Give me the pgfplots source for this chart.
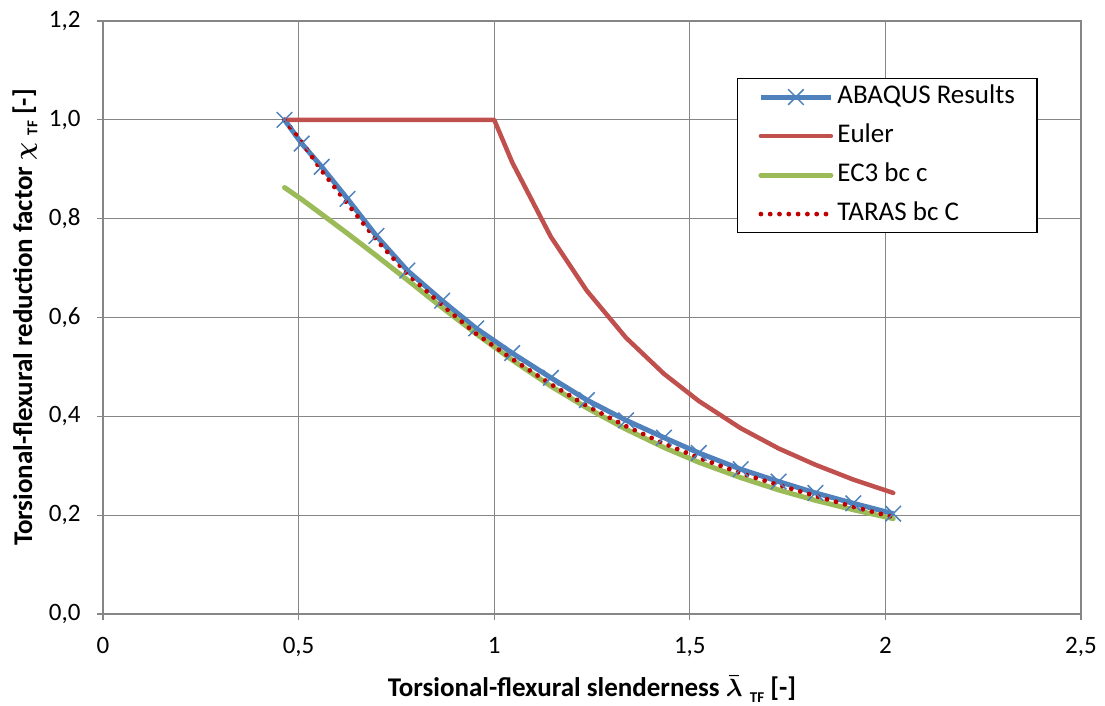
\documentclass[border=0pt]{standalone}
\usepackage{amsmath}
\usepackage{pgfplots}
\pgfplotsset{compat=1.18}
\usepackage{fontspec}
\setmainfont{Carlito}
\definecolor{cblue}{HTML}{4F81BD}
\definecolor{cred}{HTML}{C0504D}
\definecolor{cgreen}{HTML}{9BBB59}
\definecolor{cdot}{HTML}{C00000}
\definecolor{cgrid}{HTML}{868686}
\newcommand{\fs}{\fontsize{25pt}{29pt}\selectfont}
\newcommand{\fl}{\fontsize{27pt}{31pt}\selectfont}
\begin{document}
\fs
\begin{tikzpicture}
\useasboundingbox (-103pt,-91pt) rectangle (1002pt,614pt);
\begin{axis}[
  scale only axis,
  width=978pt, height=593pt,
  xmin=0, xmax=2.5, ymin=0, ymax=1.2,
  xtick={0,0.5,1,1.5,2,2.5},
  ytick={0,0.2,0.4,0.6,0.8,1.0,1.2},
  xticklabels={0,{0,5},1,{1,5},2,{2,5}},
  yticklabels={{0,0},{0,2},{0,4},{0,6},{0,8},{1,0},{1,2}},
  grid=major,
  major grid style={cgrid, line width=1.3pt},
  axis line style={cgrid, line width=1.3pt},
  tick style={cgrid, line width=1.3pt},
  tick align=outside, major tick length=6pt,
  tick pos=left,
  ticklabel style={font=\fs},
  yticklabel style={xshift=-8pt},
  xticklabel style={yshift=-9pt},
  xlabel={\textbf{Torsional-flexural slenderness $\boldsymbol{\bar{\lambda}}$\;\raisebox{-0.4ex}{\fontsize{15pt}{16pt}\selectfont TF} [-]}},
  ylabel={\textbf{Torsional-flexural reduction factor $\boldsymbol{\chi}$\;\raisebox{-0.4ex}{\fontsize{15pt}{16pt}\selectfont TF} [-]}},
  xlabel style={at={(axis description cs:0.5,0)}, anchor=center, yshift=-75pt, font=\fl},
  ylabel style={at={(axis description cs:0,0.5)}, anchor=center, yshift=78pt, font=\fl},
  legend style={at={(rel axis cs:0.648,0.904)}, anchor=north west,
    draw=black, line width=1.3pt, fill=white,
    inner xsep=6pt, inner ysep=3pt, row sep=8pt,
    font=\fl,
    nodes={inner sep=2pt, text height=20pt, text depth=7pt},
    /tikz/every odd column/.style={column sep=2pt},
    legend cell align=left},
  legend image code/.code={
    \path (0pt,0pt);
    \draw[#1, mark=none] (15pt,0pt) -- (85pt,0pt);
    \draw[#1, draw=none] plot coordinates {(50pt,0pt)};},
]
\addplot[cblue, line width=5pt, mark=x, mark size=11pt, mark options={line width=1.5pt, solid}] coordinates {
(0.464,1.000) (0.508,0.952) (0.559,0.905) (0.625,0.840) (0.699,0.765)
(0.778,0.695) (0.867,0.634) (0.954,0.578) (1.046,0.528) (1.145,0.478)
(1.237,0.433) (1.337,0.392) (1.434,0.357) (1.523,0.326) (1.630,0.293)
(1.727,0.268) (1.821,0.245) (1.918,0.224) (2.020,0.203)};
\addlegendentry{ABAQUS Results\hspace*{14pt}}
\addplot[cred, line width=4.5pt, line join=round, line cap=round] coordinates {
(0.464,1.000) (1.000,1.000) (1.046,0.914) (1.145,0.763) (1.237,0.654)
(1.337,0.559) (1.434,0.486) (1.523,0.431) (1.630,0.376) (1.727,0.335)
(1.821,0.302) (1.918,0.272) (2.020,0.245)};
\addlegendentry{Euler}
\addplot[cgreen, line width=5pt, line join=round, line cap=round] coordinates {
(0.464,0.863) (0.508,0.839) (0.559,0.809) (0.625,0.770) (0.699,0.725)
(0.778,0.676) (0.867,0.620) (0.954,0.567) (1.046,0.514) (1.145,0.461)
(1.237,0.417) (1.337,0.374) (1.434,0.337) (1.523,0.307) (1.630,0.276)
(1.727,0.251) (1.821,0.230) (1.918,0.211) (2.020,0.193)};
\addlegendentry{EC3 bc c}
\addplot[cdot, line width=4.8pt, line cap=round, dash pattern=on 0pt off 9.3pt] coordinates {
(0.464,1.000) (0.508,0.955) (0.559,0.897) (0.625,0.830) (0.699,0.757)
(0.778,0.688) (0.867,0.625) (0.954,0.567) (1.046,0.516) (1.145,0.465)
(1.237,0.421) (1.337,0.380) (1.434,0.345) (1.523,0.316) (1.630,0.285)
(1.727,0.261) (1.821,0.239) (1.918,0.217) (2.020,0.196)};
\addlegendentry{TARAS bc C}
\end{axis}
\end{tikzpicture}
\end{document}
